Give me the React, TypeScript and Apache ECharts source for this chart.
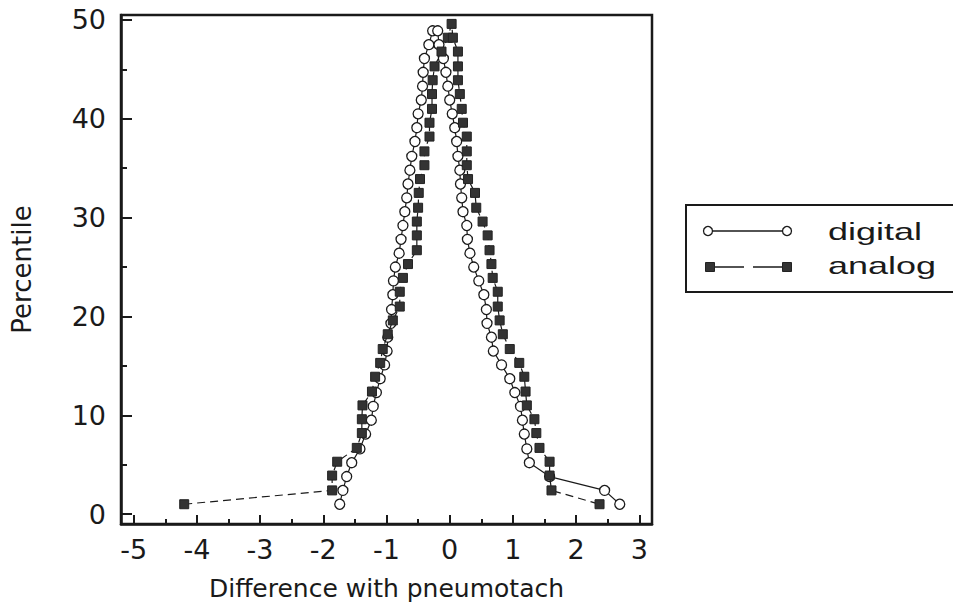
import React, { useEffect, useRef } from "react";
import * as echarts from "echarts";

// Mountain plot: percentile (folded) vs difference with pneumotach
const digitalDiff = [
  -1.74, -1.69, -1.63, -1.55, -1.42, -1.33, -1.24, -1.21, -1.16, -1.1, -1.03, -0.99, -0.98, -0.93, -0.92, -0.9, -0.89, -0.86,
  -0.8, -0.77, -0.74, -0.71, -0.68, -0.66, -0.63, -0.6, -0.55, -0.52, -0.5, -0.45, -0.43, -0.42, -0.4, -0.33, -0.27,
  -0.19, -0.17, -0.1, -0.06, -0.03, 0.0, 0.04, 0.08, 0.11, 0.13, 0.16, 0.17, 0.19, 0.21, 0.27, 0.28, 0.32, 0.38,
  0.46, 0.54, 0.58, 0.59, 0.66, 0.69, 0.82, 0.95, 1.03, 1.12, 1.15, 1.18, 1.22, 1.26, 1.58, 2.45, 2.69,
];
const digitalPct = [
  1.0, 2.4, 3.8, 5.2, 6.6, 8.1, 9.5, 10.9, 12.3, 13.7, 15.1, 16.5, 17.9, 19.3, 20.7, 22.2, 23.6, 25.0,
  26.4, 27.8, 29.2, 30.6, 32.0, 33.4, 34.8, 36.2, 37.7, 39.1, 40.5, 41.9, 43.3, 44.7, 46.1, 47.5, 48.9,
  48.9, 47.5, 46.1, 44.7, 43.3, 41.9, 40.5, 39.1, 37.7, 36.2, 34.8, 33.4, 32.0, 30.6, 29.2, 27.8, 26.4, 25.0,
  23.6, 22.2, 20.7, 19.3, 17.9, 16.5, 15.1, 13.7, 12.3, 10.9, 9.5, 8.1, 6.6, 5.2, 3.8, 2.4, 1.0,
];
const analogDiff = [
  -4.2, -1.86, -1.86, -1.78, -1.47, -1.39, -1.39, -1.38, -1.23, -1.18, -1.1, -1.06, -0.98, -0.9, -0.79, -0.79, -0.74,
  -0.66, -0.52, -0.52, -0.52, -0.5, -0.49, -0.47, -0.4, -0.4, -0.32, -0.32, -0.28, -0.28, -0.27, -0.24, -0.13, -0.03, 0.03,
  0.05, 0.13, 0.13, 0.13, 0.16, 0.19, 0.21, 0.27, 0.27, 0.27, 0.29, 0.4, 0.42, 0.52, 0.6, 0.63, 0.66,
  0.68, 0.76, 0.76, 0.79, 0.84, 0.95, 1.1, 1.18, 1.2, 1.22, 1.34, 1.37, 1.42, 1.58, 1.58, 1.61, 2.37,
];
const analogPct = [
  1.0, 2.4, 3.9, 5.3, 6.7, 8.2, 9.6, 11.0, 12.4, 13.9, 15.3, 16.7, 18.2, 19.6, 21.0, 22.5, 23.9,
  25.3, 26.7, 28.2, 29.6, 31.0, 32.5, 33.9, 35.3, 36.7, 38.2, 39.6, 41.0, 42.5, 43.9, 45.3, 46.8, 48.2, 49.6,
  48.2, 46.8, 45.3, 43.9, 42.5, 41.0, 39.6, 38.2, 36.7, 35.3, 33.9, 32.5, 31.0, 29.6, 28.2, 26.7, 25.3,
  23.9, 22.5, 21.0, 19.6, 18.2, 16.7, 15.3, 13.9, 12.4, 11.0, 9.6, 8.2, 6.7, 5.3, 3.9, 2.4, 1.0,
];
const xMajorTicks = [-5, -4, -3, -2, -1, 0, 1, 2, 3];
const xMinorTicks = [-5, -4.5, -4, -3.5, -3, -2.5, -2, -1.5, -1, -0.5, 0, 0.5, 1, 1.5, 2, 2.5, 3];
const yMajorTicks = [0, 10, 20, 30, 40, 50];
const yMinorTicks = [0, 5, 10, 15, 20, 25, 30, 35, 40, 45, 50];
const seriesNames = ["digital", "analog"];

const FONT = "DejaVu Sans";
const LEGEND_FONT = "Liberation Sans";
const INK = "#1a1a1a";

export default function App() {
  const ref = useRef<HTMLDivElement>(null);
  useEffect(() => {
    if (!ref.current) return;
    const chart = echarts.init(ref.current, null, { renderer: "svg" });
    const digital = digitalDiff.map((d, i) => [d, digitalPct[i]]);
    const analog = analogDiff.map((d, i) => [d, analogPct[i]]);
    const xBase = { type: "value", min: -5.2, max: 3.2, gridIndex: 0 } as any;
    const yBase = { type: "value", min: -1, max: 50.5, gridIndex: 0 } as any;
    chart.setOption({
      animation: false,
      backgroundColor: "#ffffff",
      grid: {
        left: 121,
        top: 15,
        width: 531,
        height: 509,
        show: true,
        borderColor: INK,
        borderWidth: 2.5,
        backgroundColor: "transparent",
      },
      xAxis: [
        {
          ...xBase,
          position: "bottom",
          name: "Difference with pneumotach",
          nameLocation: "middle",
          nameGap: 52,
          nameTextStyle: { fontFamily: FONT, fontSize: 25, color: INK },
          axisLine: { show: true, onZero: false, lineStyle: { color: INK, width: 2.5 } },
          axisTick: { show: true, inside: true, length: 9, customValues: xMajorTicks, lineStyle: { color: INK, width: 2 } },
          axisLabel: { show: true, customValues: xMajorTicks, margin: 12, fontFamily: FONT, fontSize: 27, color: INK },
          splitLine: { show: false },
        },
        {
          ...xBase,
          position: "bottom",
          axisLine: { show: false, onZero: false },
          axisTick: { show: true, inside: true, length: 5, customValues: xMinorTicks, lineStyle: { color: INK, width: 2 } },
          axisLabel: { show: false },
          splitLine: { show: false },
        },
      ],
      yAxis: [
        {
          ...yBase,
          position: "left",
          name: "Percentile",
          nameLocation: "middle",
          nameGap: 86,
          nameRotate: 90,
          nameTextStyle: { fontFamily: FONT, fontSize: 26, color: INK },
          axisLine: { show: true, onZero: false, lineStyle: { color: INK, width: 2.5 } },
          axisTick: { show: true, inside: true, length: 11, customValues: yMajorTicks, lineStyle: { color: INK, width: 2 } },
          axisLabel: { show: true, customValues: yMajorTicks, margin: 15, fontFamily: FONT, fontSize: 27, color: INK },
          splitLine: { show: false },
        },
        {
          ...yBase,
          position: "left",
          axisLine: { show: false, onZero: false },
          axisTick: { show: true, inside: true, length: 6, customValues: yMinorTicks, lineStyle: { color: INK, width: 2 } },
          axisLabel: { show: false },
          splitLine: { show: false },
        },
      ],
      series: [
        {
          name: seriesNames[0],
          type: "line",
          xAxisIndex: 0,
          yAxisIndex: 0,
          data: digital,
          symbol: "circle",
          symbolSize: 10,
          showAllSymbol: true,
          itemStyle: { color: "#ffffff", borderColor: INK, borderWidth: 1.3 },
          lineStyle: { color: INK, width: 1.2 },
          z: 3,
        },
        {
          name: seriesNames[1],
          type: "line",
          xAxisIndex: 0,
          yAxisIndex: 0,
          data: analog,
          symbol: "rect",
          symbolSize: 9,
          showAllSymbol: true,
          itemStyle: { color: "#333333", borderColor: "#222222", borderWidth: 1 },
          lineStyle: { color: INK, width: 1.2, type: [8, 5] },
          z: 4,
        },
      ],
      graphic: [
        {
          type: "rect",
          shape: { x: 686, y: 205, width: 290, height: 87 },
          style: { fill: "none", stroke: INK, lineWidth: 2 },
        },
        { type: "line", shape: { x1: 708, y1: 231, x2: 787, y2: 231 }, style: { stroke: INK, lineWidth: 1.3 } },
        { type: "circle", shape: { cx: 708, cy: 231, r: 4.5 }, style: { fill: "#fff", stroke: INK, lineWidth: 1.3 } },
        { type: "circle", shape: { cx: 787, cy: 231, r: 4.5 }, style: { fill: "#fff", stroke: INK, lineWidth: 1.3 } },
        { type: "line", shape: { x1: 710, y1: 267, x2: 744, y2: 267 }, style: { stroke: INK, lineWidth: 1.3 } },
        { type: "line", shape: { x1: 753, y1: 267, x2: 787, y2: 267 }, style: { stroke: INK, lineWidth: 1.3 } },
        { type: "rect", shape: { x: 705.5, y: 262.5, width: 9, height: 9 }, style: { fill: "#333", stroke: "#222", lineWidth: 1 } },
        { type: "rect", shape: { x: 782.5, y: 262.5, width: 9, height: 9 }, style: { fill: "#333", stroke: "#222", lineWidth: 1 } },
        {
          type: "text",
          x: 828,
          y: 231,
          scaleX: 1.5,
          style: { text: seriesNames[0], fontFamily: LEGEND_FONT, fontSize: 24, fill: INK, align: "left", verticalAlign: "middle" },
        },
        {
          type: "text",
          x: 828,
          y: 265,
          scaleX: 1.5,
          style: { text: seriesNames[1], fontFamily: LEGEND_FONT, fontSize: 24, fill: INK, align: "left", verticalAlign: "middle" },
        },
      ],
    });
    return () => chart.dispose();
  }, []);
  return <div ref={ref} style={{ width: 953, height: 608, position: "absolute", left: 0, top: 0 }} />;
}
